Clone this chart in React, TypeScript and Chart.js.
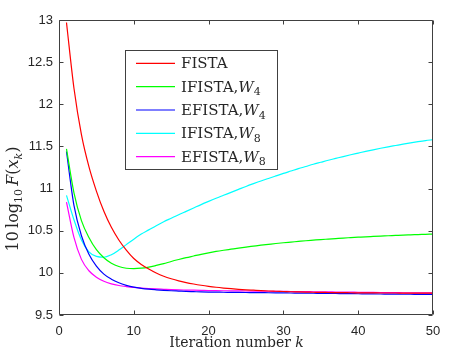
import React, { useEffect, useRef } from "react";
import { Chart, registerables } from "chart.js";

Chart.register(...registerables);

const ITER = Array.from({ length: 50 }, (_, i) => i + 1);

const FISTA = [
  12.97, 12.19, 11.64, 11.26, 10.97, 10.73, 10.54, 10.39, 10.27, 10.17,
  10.1, 10.045, 9.998, 9.96, 9.93, 9.905, 9.885, 9.868, 9.853, 9.84,
  9.829, 9.82, 9.812, 9.805, 9.799, 9.794, 9.789, 9.785, 9.782, 9.779,
  9.776, 9.774, 9.772, 9.77, 9.768, 9.767, 9.766, 9.765, 9.764, 9.763,
  9.762, 9.762, 9.761, 9.761, 9.761, 9.76, 9.76, 9.76, 9.76, 9.76,
];
const IFISTA_W4 = [
  11.47, 10.95, 10.62, 10.42, 10.275, 10.18, 10.115, 10.075, 10.055, 10.05,
  10.055, 10.068, 10.088, 10.11, 10.135, 10.158, 10.18, 10.2, 10.22, 10.238,
  10.254, 10.268, 10.281, 10.294, 10.306, 10.317, 10.328, 10.338, 10.348, 10.357,
  10.365, 10.373, 10.381, 10.388, 10.395, 10.401, 10.407, 10.413, 10.418, 10.423,
  10.428, 10.432, 10.436, 10.44, 10.444, 10.448, 10.451, 10.454, 10.457, 10.46,
];
const EFISTA_W4 = [
  11.44, 10.8, 10.44, 10.22, 10.08, 9.985, 9.925, 9.882, 9.852, 9.83,
  9.816, 9.806, 9.799, 9.793, 9.788, 9.784, 9.78, 9.777, 9.774, 9.772,
  9.771, 9.77, 9.769, 9.768, 9.767, 9.766, 9.765, 9.764, 9.763, 9.762,
  9.761, 9.76, 9.759, 9.758, 9.757, 9.756, 9.755, 9.754, 9.753, 9.752,
  9.751, 9.75, 9.749, 9.748, 9.747, 9.746, 9.746, 9.745, 9.745, 9.744,
];
const IFISTA_W8 = [
  10.92, 10.63, 10.39, 10.25, 10.195, 10.185, 10.215, 10.27, 10.335, 10.4,
  10.46, 10.51, 10.56, 10.606, 10.648, 10.69, 10.73, 10.77, 10.81, 10.848,
  10.885, 10.92, 10.955, 10.99, 11.025, 11.058, 11.09, 11.12, 11.15, 11.18,
  11.208, 11.236, 11.262, 11.288, 11.312, 11.336, 11.358, 11.38, 11.401, 11.421,
  11.441, 11.46, 11.478, 11.495, 11.511, 11.527, 11.542, 11.556, 11.569, 11.58,
];
const EFISTA_W8 = [
  10.84, 10.42, 10.16, 10.025, 9.948, 9.9, 9.87, 9.85, 9.837, 9.827,
  9.82, 9.814, 9.809, 9.805, 9.801, 9.798, 9.796, 9.794, 9.792, 9.79,
  9.789, 9.788, 9.787, 9.786, 9.785, 9.784, 9.783, 9.782, 9.781, 9.78,
  9.779, 9.778, 9.777, 9.776, 9.775, 9.774, 9.773, 9.772, 9.771, 9.77,
  9.769, 9.768, 9.767, 9.766, 9.765, 9.764, 9.763, 9.763, 9.762, 9.762,
];

const X_TICKS = [0, 10, 20, 30, 40, 50];
const Y_TICKS = [9.5, 10, 10.5, 11, 11.5, 12, 12.5, 13];

type Part = { t: string; it?: boolean; sub?: boolean };

const SERIES: { name: Part[]; data: number[]; color: string }[] = [
  { name: [{ t: "FISTA" }], data: FISTA, color: "#ff0000" },
  { name: [{ t: "IFISTA," }, { t: "W", it: true }, { t: "4", sub: true }], data: IFISTA_W4, color: "#00ff00" },
  { name: [{ t: "EFISTA," }, { t: "W", it: true }, { t: "4", sub: true }], data: EFISTA_W4, color: "#0000ff" },
  { name: [{ t: "IFISTA," }, { t: "W", it: true }, { t: "8", sub: true }], data: IFISTA_W8, color: "#00ffff" },
  { name: [{ t: "EFISTA," }, { t: "W", it: true }, { t: "8", sub: true }], data: EFISTA_W8, color: "#ff00ff" },
];

const X_LABEL: Part[] = [{ t: "Iteration number " }, { t: "k", it: true }];
const Y_LABEL: Part[] = [
  { t: "10\u2009log" },
  { t: "10", sub: true },
  { t: "\u2009" },
  { t: "F", it: true },
  { t: "(" },
  { t: "x", it: true },
  { t: "k", it: true, sub: true },
  { t: ")" },
];

const AXIS_COLOR = "#404040";
const TEXT_COLOR = "#262626";
const SERIF = "'DejaVu Serif'";

function setFont(ctx: CanvasRenderingContext2D, p: Part, size: number) {
  const s = p.sub ? Math.round(size * 0.7) : size;
  ctx.font = `${p.it ? "italic " : ""}${s}px ${SERIF}`;
}

function richWidth(ctx: CanvasRenderingContext2D, parts: Part[], size: number) {
  let w = 0;
  for (const p of parts) {
    setFont(ctx, p, size);
    w += ctx.measureText(p.t).width;
  }
  return w;
}

function drawRich(ctx: CanvasRenderingContext2D, parts: Part[], x: number, y: number, size: number) {
  let cx = x;
  ctx.textAlign = "left";
  ctx.textBaseline = "alphabetic";
  for (const p of parts) {
    setFont(ctx, p, size);
    ctx.fillText(p.t, cx, p.sub ? y + size * 0.25 : y);
    cx += ctx.measureText(p.t).width;
  }
  return cx - x;
}

const decoPlugin = {
  id: "deco",
  afterDraw(chart: any) {
    const ctx: CanvasRenderingContext2D = chart.ctx;
    const { left, right, top, bottom } = chart.chartArea;
    const xs = chart.scales.x;
    const ys = chart.scales.y;
    ctx.save();
    ctx.strokeStyle = AXIS_COLOR;
    ctx.lineWidth = 1;
    const L = Math.round(left) + 0.5;
    const R = Math.round(right) - 0.5;
    const T = Math.round(top) + 0.5;
    const B = Math.round(bottom) - 0.5;
    ctx.beginPath();
    ctx.rect(L, T, R - L, B - T);
    ctx.stroke();
    const TL = 4;
    ctx.beginPath();
    for (const v of X_TICKS) {
      const px = Math.round(xs.getPixelForValue(v)) + 0.5;
      ctx.moveTo(px, B);
      ctx.lineTo(px, B - TL);
      ctx.moveTo(px, T);
      ctx.lineTo(px, T + TL);
    }
    for (const v of Y_TICKS) {
      const py = Math.round(ys.getPixelForValue(v)) + 0.5;
      ctx.moveTo(L, py);
      ctx.lineTo(L + TL, py);
      ctx.moveTo(R, py);
      ctx.lineTo(R - TL, py);
    }
    ctx.stroke();

    // Legend
    const bx = 125.5, by = 50.5, bw = 152, bh = 119;
    ctx.fillStyle = "#ffffff";
    ctx.fillRect(bx, by, bw, bh);
    ctx.strokeStyle = AXIS_COLOR;
    ctx.strokeRect(bx, by, bw, bh);
    const LEG_FS = 15;
    SERIES.forEach((s, i) => {
      const yc = 63.3 + i * 23.35;
      ctx.strokeStyle = s.color;
      ctx.lineWidth = 1.2;
      ctx.beginPath();
      ctx.moveTo(136, yc);
      ctx.lineTo(175, yc);
      ctx.stroke();
      ctx.fillStyle = TEXT_COLOR;
      drawRich(ctx, s.name, 181, yc + 5, LEG_FS);
    });

    // X label
    ctx.fillStyle = TEXT_COLOR;
    const XFS = 14;
    const xw = richWidth(ctx, X_LABEL, XFS);
    drawRich(ctx, X_LABEL, 236.5 - xw / 2, 347, XFS);

    // Y label
    const YFS = 16;
    const yw = richWidth(ctx, Y_LABEL, YFS);
    ctx.translate(18, 199);
    ctx.rotate(-Math.PI / 2);
    drawRich(ctx, Y_LABEL, -yw / 2, 0, YFS);
    ctx.restore();
  },
};

export default function App() {
  const ref = useRef<HTMLCanvasElement>(null);
  useEffect(() => {
    if (!ref.current) return;
    const chart = new Chart(ref.current, {
      type: "line",
      data: {
        datasets: SERIES.map((s) => ({
          label: s.name.map((p) => p.t).join(""),
          data: ITER.map((k, i) => ({ x: k, y: s.data[i] })),
          borderColor: s.color,
          backgroundColor: s.color,
          borderWidth: 1.2,
          pointRadius: 0,
          cubicInterpolationMode: "monotone" as const,
          fill: false,
        })),
      },
      options: {
        animation: false,
        responsive: false,
        maintainAspectRatio: false,
        layout: { padding: { top: 20, right: 31, left: 0, bottom: 0 } },
        plugins: { legend: { display: false }, tooltip: { enabled: false } },
        scales: {
          x: {
            type: "linear",
            min: 0,
            max: 50,
            afterBuildTicks: (sc: any) => {
              sc.ticks = X_TICKS.map((v) => ({ value: v }));
            },
            afterFit: (sc: any) => {
              sc.height = 39;
            },
            grid: { display: false, drawTicks: false },
            border: { display: false },
            ticks: {
              padding: 9,
              color: TEXT_COLOR,
              font: { family: "'Liberation Sans'", size: 13 },
              maxRotation: 0,
              callback: (v: any) => String(v),
            },
          },
          y: {
            type: "linear",
            min: 9.5,
            max: 13,
            afterBuildTicks: (sc: any) => {
              sc.ticks = Y_TICKS.map((v) => ({ value: v }));
            },
            afterFit: (sc: any) => {
              sc.width = 59;
            },
            grid: { display: false, drawTicks: false },
            border: { display: false },
            ticks: {
              padding: 6,
              color: TEXT_COLOR,
              font: { family: "'Liberation Sans'", size: 13 },
              callback: (v: any) => String(v),
            },
          },
        },
      },
      plugins: [decoPlugin],
    });
    return () => chart.destroy();
  }, []);
  return (
    <div style={{ position: "fixed", left: 0, top: 0, width: 464, height: 354, background: "#fff" }}>
      <canvas ref={ref} width={464} height={354} style={{ width: 464, height: 354, display: "block" }} />
    </div>
  );
}
